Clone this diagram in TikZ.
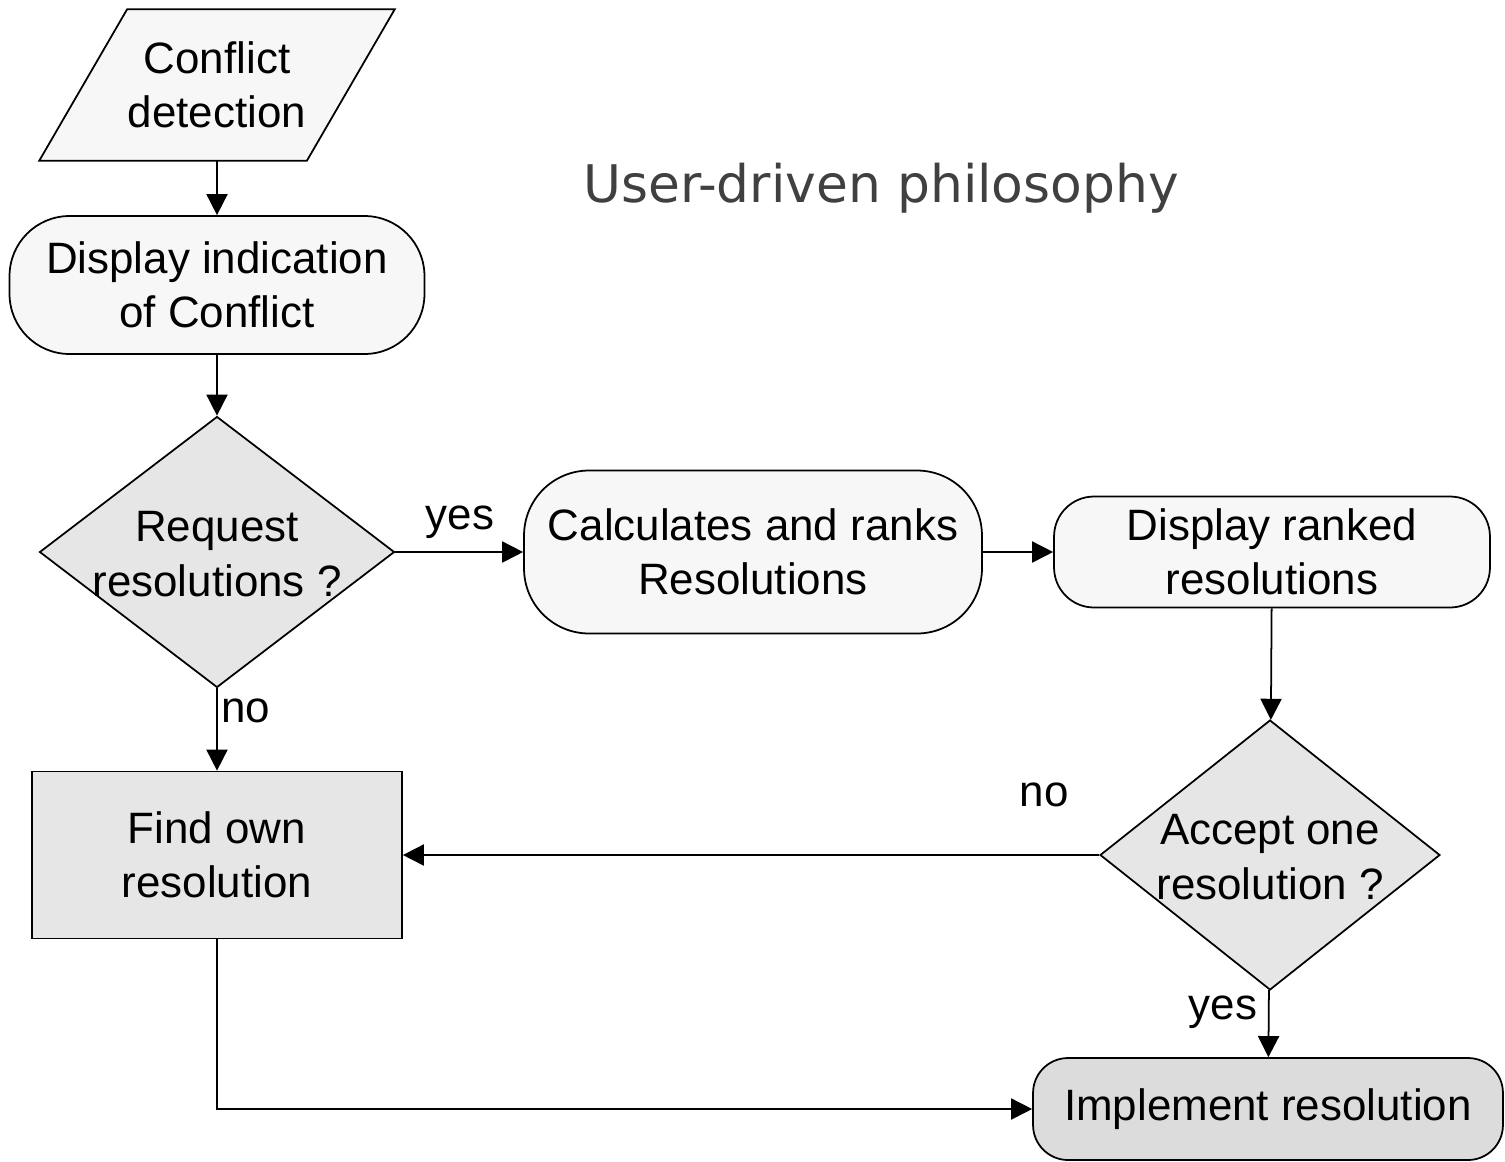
\documentclass[tikz,border=0pt]{standalone}
\usepackage{fontspec}
\setmainfont{Liberation Sans}
\newfontfamily\titlefont{DejaVu Sans}
\usetikzlibrary{shapes.geometric,arrows.meta,backgrounds}

\definecolor{lightfill}{HTML}{F7F7F7}
\definecolor{midfill}{HTML}{E6E6E6}
\definecolor{darkfill}{HTML}{DCDCDC}
\definecolor{titlegray}{HTML}{404040}

\tikzset{
  io/.style={inner sep=0pt, align=center},
  term/.style={draw, line width=1pt, fill=lightfill, inner sep=0pt, align=center},
  decision/.style={draw, line width=1pt, fill=midfill, diamond, inner sep=0pt},
  process/.style={draw, line width=1pt, fill=midfill, inner sep=0pt, align=center},
  flowline/.style={->, line width=1pt}
}

\begin{document}
\begin{tikzpicture}[x=0.02cm, y=-0.02cm, font=\fontsize{25}{31}\selectfont,
  >={Triangle[length=12pt,width=12pt]}]
\useasboundingbox (0,0) rectangle (1505,1161);

\node[text=titlegray, font=\titlefont\fontsize{29.5}{35}\selectfont] (title) at (881,188) {User-driven philosophy};

% input box, slanted sides drawn behind
\node[io, minimum width=5.34cm, minimum height=3.02cm] (detect) at (217,85) {Conflict\\detection};
\begin{scope}[on background layer]
\draw[line width=1pt, fill=lightfill] ([xshift=-0.88cm]detect.south west) -- ([xshift=-0.88cm]detect.south east)
  -- ([xshift=0.88cm]detect.north east) -- ([xshift=0.88cm]detect.north west) -- cycle;
\end{scope}

\node[term, rounded corners=1.2cm, minimum width=8.3cm, minimum height=2.76cm] (show) at (217,285) {Display indication\\of Conflict};
\node[decision, minimum width=7.1cm, minimum height=5.42cm] (ask) at (217,552) {};
\node[align=center] (asktxt) at (217,554) {Request\\resolutions ?};

\node[term, rounded corners=1.3cm, minimum width=9.16cm, minimum height=3.26cm] (calc) at (753,552) {Calculates and ranks\\Resolutions};
\node[term, rounded corners=0.8cm, minimum width=8.72cm, minimum height=2.22cm] (ranked) at (1272,552) {Display ranked\\resolutions};
\node[decision, minimum width=6.8cm, minimum height=5.4cm] (accept) at (1270,855) {};
\node[align=center] (accepttxt) at (1270,857) {Accept one\\resolution ?};

\node[process, minimum width=7.4cm, minimum height=3.34cm] (own) at (217,855) {Find own\\resolution};
\node[term, fill=darkfill, rounded corners=0.7cm, minimum width=9.4cm, minimum height=2.04cm] (impl) at (1268,1109) {Implement resolution};

\node (yes1) at (460,522) {yes};
\node (no1) at (246,711) {no};
\node (no2) at (1044,795) {no};
\node (yes2) at (1223,1012) {yes};

\draw[flowline] (detect) -- (show);
\draw[flowline] (show) -- (ask);
\draw[flowline] (ask) -- (calc);
\draw[flowline] (calc) -- (ranked);
\draw[flowline] (ranked) -- (accept);
\draw[flowline] (ask) -- (own);
\draw[flowline] (accept) -- (own);
\draw[flowline] (accept) -- (impl);
\draw[flowline] (own.south) |- (impl.west);
\end{tikzpicture}
\end{document}
